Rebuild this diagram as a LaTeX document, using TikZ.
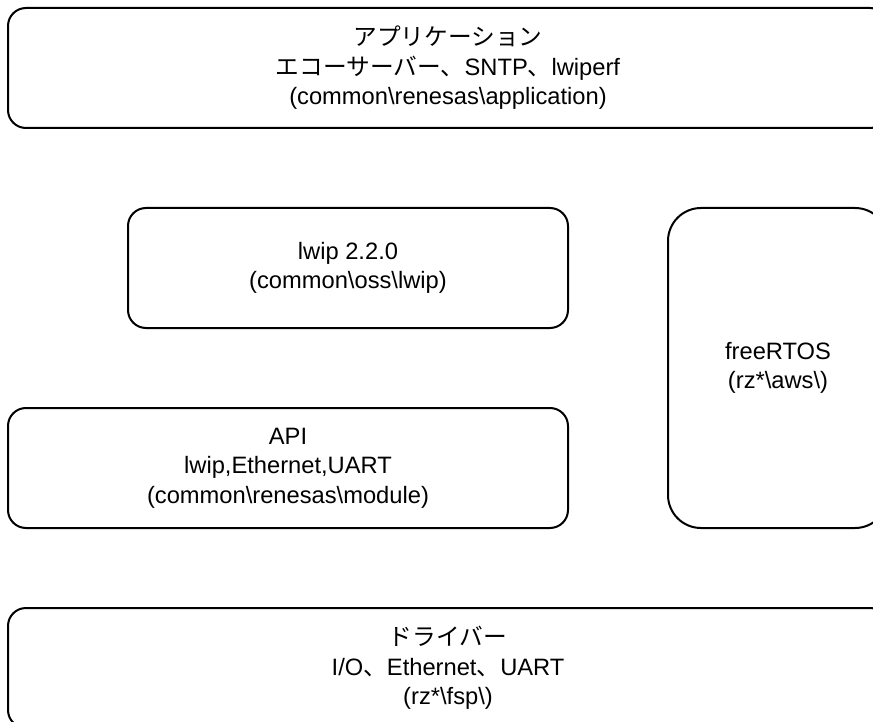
\documentclass[tikz,border=0pt]{standalone}
\usepackage{fontspec}
\setmainfont{Liberation Sans}
\newfontfamily\jpfont{Noto Sans CJK JP}
\newcommand{\bs}{\textbackslash}

\begin{document}
\begin{tikzpicture}[x=1pt, y=-1pt,
        every node/.style={font=\fontsize{23.7}{29.5}\selectfont, align=center},
        capa/.style={draw, line width=2pt, rounded corners=18pt, inner sep=0pt}]
        % Zona visible (el borde derecho e inferior quedan cortados)
        \path[use as bounding box, clip] (0, 0) rectangle (873, 722);

        % Capa de aplicación
        \node[capa, minimum width=880pt, minimum height=120pt] (app) at (448, 68)
            {{\jpfont アプリケーション}\\
             {\jpfont エコーサーバー、}SNTP{\jpfont 、}lwiperf\\
             (common\bs renesas\bs application)};

        % Pila lwip
        \node[capa, minimum width=440pt, minimum height=120pt] (lwip) at (348, 268)
            {lwip 2.2.0\\ (common\bs oss\bs lwip)};

        % Capa API
        \node[capa, minimum width=560pt, minimum height=120pt] (api) at (288, 468)
            {API\\ lwip,Ethernet,UART\\ (common\bs renesas\bs module)};

        % Sistema operativo
        \node[capa, rounded corners=33pt, minimum width=220pt, minimum height=320pt] (rtos) at (778, 368)
            {freeRTOS\\ (rz*\bs aws\bs)};

        % Capa de drivers
        \node[capa, minimum width=880pt, minimum height=120pt] (drv) at (448, 668)
            {{\jpfont ドライバー}\\
             I/O{\jpfont 、}Ethernet{\jpfont 、}UART\\
             (rz*\bs fsp\bs)};

    \end{tikzpicture}
\end{document}
